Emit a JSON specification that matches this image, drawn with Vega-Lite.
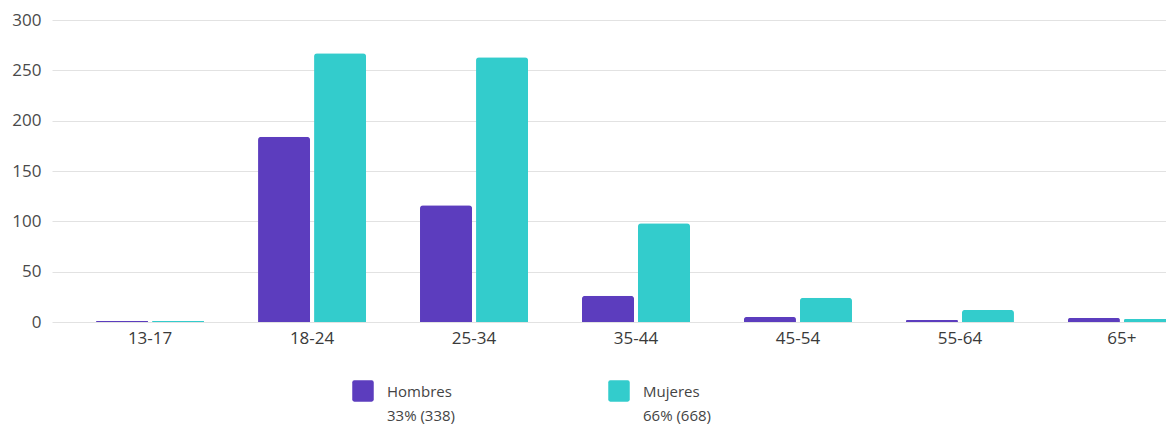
{
  "$schema": "https://vega.github.io/schema/vega-lite/v6.json",
  "autosize": {"type": "none"},
  "width": 1114,
  "height": 302,
  "padding": {"left": 52, "top": 20, "right": 0, "bottom": 106},
  "background": "#ffffff",
  "data": {
    "values": [
      {"edad": "13-17", "sexo": "Hombres", "valor": 1},
      {"edad": "13-17", "sexo": "Mujeres", "valor": 1},
      {"edad": "18-24", "sexo": "Hombres", "valor": 184},
      {"edad": "18-24", "sexo": "Mujeres", "valor": 267},
      {"edad": "25-34", "sexo": "Hombres", "valor": 116},
      {"edad": "25-34", "sexo": "Mujeres", "valor": 263},
      {"edad": "35-44", "sexo": "Hombres", "valor": 26},
      {"edad": "35-44", "sexo": "Mujeres", "valor": 98},
      {"edad": "45-54", "sexo": "Hombres", "valor": 5},
      {"edad": "45-54", "sexo": "Mujeres", "valor": 24},
      {"edad": "55-64", "sexo": "Hombres", "valor": 2},
      {"edad": "55-64", "sexo": "Mujeres", "valor": 12},
      {"edad": "65+", "sexo": "Hombres", "valor": 4},
      {"edad": "65+", "sexo": "Mujeres", "valor": 3}
    ]
  },
  "mark": {"type": "bar", "cornerRadiusTopLeft": 3, "cornerRadiusTopRight": 3},
  "encoding": {
    "x": {
      "field": "edad", "type": "nominal", "sort": null,
      "scale": {"range": [0, 1168], "paddingInner": 0.333, "paddingOuter": 0.272},
      "axis": {"title": null, "labelAngle": 0, "domain": false, "ticks": false, "labelPadding": 8, "labelFontSize": 17, "labelColor": "#3a3a3a", "labelFont": "Open Sans", "labelFontWeight": "normal"}
    },
    "xOffset": {
      "field": "sexo", "type": "nominal",
      "scale": {"paddingInner": 0.0714, "paddingOuter": 0}
    },
    "y": {
      "field": "valor", "type": "quantitative",
      "scale": {"domain": [0, 300], "nice": false},
      "axis": {"title": null, "values": [0, 50, 100, 150, 200, 250, 300], "domain": false, "ticks": false, "labelPadding": 11, "labelFontSize": 17, "labelColor": "#4a4a4a", "labelFont": "Open Sans", "gridColor": "#e2e2e2", "gridWidth": 1}
    },
    "color": {
      "field": "sexo", "type": "nominal",
      "scale": {"domain": ["Hombres", "Mujeres"], "range": ["#5C3DBE", "#33CCCC"]},
      "legend": {
        "title": null,
        "orient": "none",
        "legendX": 300,
        "legendY": 360,
        "direction": "horizontal",
        "columns": 2,
        "columnPadding": 152,
        "symbolType": "M-0.8,-1H0.8Q1,-1 1,-0.8V0.8Q1,1 0.8,1H-0.8Q-1,1 -1,0.8V-0.8Q-1,-1 -0.8,-1Z",
        "symbolSize": 462,
        "symbolStrokeWidth": 0,
        "symbolOpacity": 1,
        "labelOffset": 13,
        "labelFont": "Open Sans",
        "labelFontSize": 15,
        "labelColor": "#444444",
        "labelLimit": 200,
        "labelBaseline": "middle",
        "labelExpr": "datum.label == 'Hombres' ? ['Hombres', '33% (338)'] : ['Mujeres', '66% (668)']",
        "encode": {
          "labels": {"update": {"lineHeight": {"value": 24}, "dy": {"value": 1}}}
        }
      }
    }
  },
  "config": {"view": {"stroke": null}}
}
